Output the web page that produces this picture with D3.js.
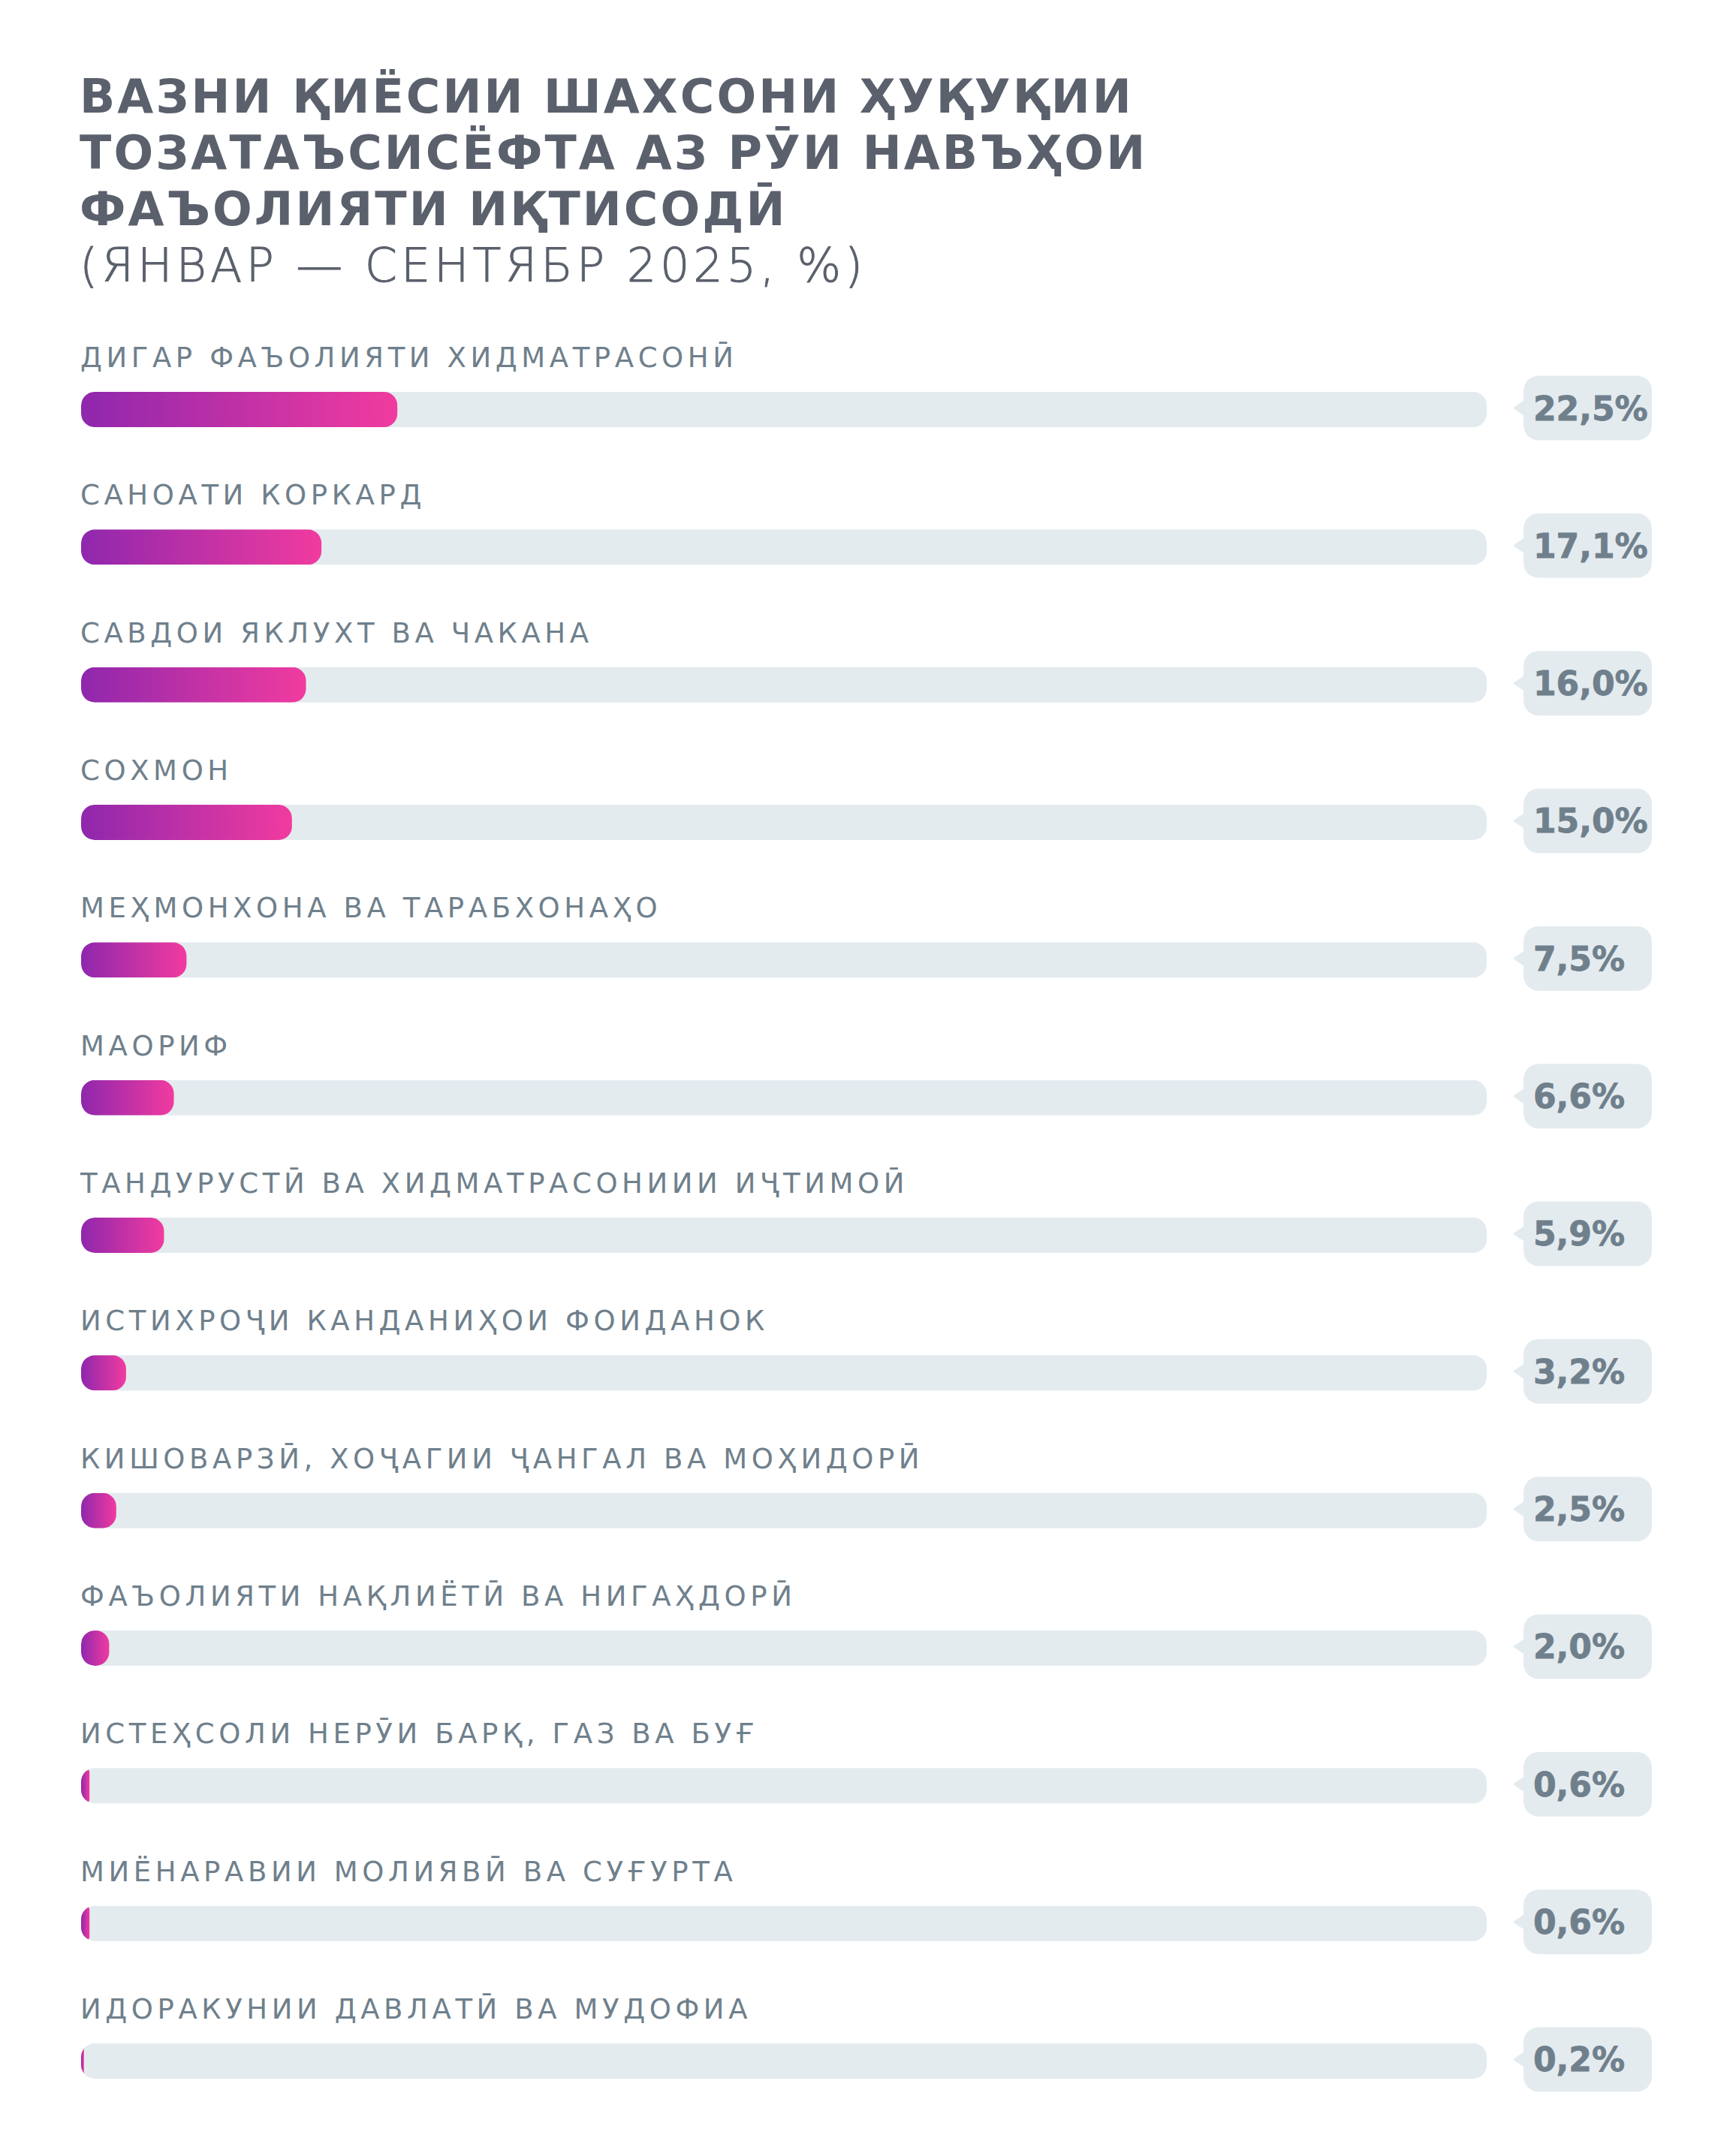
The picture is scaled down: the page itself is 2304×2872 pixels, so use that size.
<!DOCTYPE html>
<html>
<head>
<meta charset="utf-8">
<script src="https://cdn.jsdelivr.net/npm/d3@7"></script>
<style>
  body { margin: 0; background: #fff; }
  svg { display: block; }
</style>
</head>
<body>
<svg width="2304" height="2872"></svg>
<script>
// data
var titleLines = ["ВАЗНИ ҚИЁСИИ ШАХСОНИ ҲУҚУҚИИ", "ТОЗАТАЪСИСЁФТА АЗ РӮИ НАВЪҲОИ", "ФАЪОЛИЯТИ ИҚТИСОДӢ"];
var subtitle = "(ЯНВАР — СЕНТЯБР 2025, %)";

var categories = [
  "ДИГАР ФАЪОЛИЯТИ ХИДМАТРАСОНӢ",
  "САНОАТИ КОРКАРД",
  "САВДОИ ЯКЛУХТ ВА ЧАКАНА",
  "СОХМОН",
  "МЕҲМОНХОНА ВА ТАРАБХОНАҲО",
  "МАОРИФ",
  "ТАНДУРУСТӢ ВА ХИДМАТРАСОНИИИ ИҶТИМОӢ",
  "ИСТИХРОҶИ КАНДАНИҲОИ ФОИДАНОК",
  "КИШОВАРЗӢ, ХОҶАГИИ ҶАНГАЛ ВА МОҲИДОРӢ",
  "ФАЪОЛИЯТИ НАҚЛИЁТӢ ВА НИГАҲДОРӢ",
  "ИСТЕҲСОЛИ НЕРӮИ БАРҚ, ГАЗ ВА БУҒ",
  "МИЁНАРАВИИ МОЛИЯВӢ ВА СУҒУРТА",
  "ИДОРАКУНИИ ДАВЛАТӢ ВА МУДОФИА"
];
var values = [22.5, 17.1, 16.0, 15.0, 7.5, 6.6, 5.9, 3.2, 2.5, 2.0, 0.6, 0.6, 0.2];

var svg = d3.select("svg"),
    width = +svg.attr("width"),
    left = 108,
    trackW = 1872,
    trackH = 47,
    rowStep = 183.33;

var titleColor = "#5a606c",
    labelColor = "#6f808c",
    trackColor = "#e4ebef";

svg.append("rect").attr("width", width).attr("height", 2872).attr("fill", "#fff");

var defs = svg.append("defs");
var grad = defs.append("linearGradient")
    .attr("id", "barGrad")
    .attr("x1", "0%").attr("x2", "100%").attr("y1", "0%").attr("y2", "0%");
grad.append("stop").attr("offset", "0%").attr("stop-color", "#8f27ad");
grad.append("stop").attr("offset", "100%").attr("stop-color", "#f13b9f");

var x = d3.scaleLinear().domain([0, 100]).range([0, trackW]);
var y = d3.scaleBand().domain(categories)
    .range([400, 400 + rowStep * categories.length]).padding(0);

var fmt = function(v) { return d3.format(".1f")(v).replace(".", ",") + "%"; };

// title
svg.append("g").selectAll("text")
  .data(titleLines)
  .enter().append("text")
    .attr("x", left - 2)
    .attr("y", function(d, i) { return 150 + i * 75; })
    .attr("fill", titleColor)
    .style("font-family", "'DejaVu Sans', sans-serif")
    .style("font-weight", "bold")
    .style("font-size", "62px")
    .style("letter-spacing", "3.1px")
    .text(function(d) { return d; });

svg.append("text")
    .attr("x", left - 2)
    .attr("y", 375)
    .attr("fill", titleColor)
    .attr("stroke", titleColor)
    .attr("stroke-width", 0.9)
    .style("font-family", "'DejaVu Sans', sans-serif")
    .style("font-weight", "200")
    .style("font-size", "62px")
    .style("letter-spacing", "4.9px")
    .text(subtitle);

// clip so tiny fills follow the rounded track
var clip = defs.append("clipPath").attr("id", "trackClip");
clip.selectAll("rect")
  .data(categories)
  .enter().append("rect")
    .attr("x", left)
    .attr("y", function(d) { return y(d) + 122; })
    .attr("width", trackW)
    .attr("height", trackH)
    .attr("rx", 18);

var row = svg.append("g").selectAll(".row")
  .data(categories.map(function(c, i) { return {cat: c, value: values[i]}; }))
  .enter().append("g")
    .attr("class", "row")
    .attr("transform", function(d) { return "translate(0," + y(d.cat) + ")"; });

row.append("text")
    .attr("x", left - 1)
    .attr("y", 89)
    .attr("fill", labelColor)
    .style("font-family", "'DejaVu Sans', sans-serif")
    .style("font-size", "37px")
    .style("letter-spacing", "5.6px")
    .text(function(d) { return d.cat; });

row.append("rect")
    .attr("x", left)
    .attr("y", 122)
    .attr("width", trackW)
    .attr("height", trackH)
    .attr("rx", 18)
    .attr("fill", trackColor);

row.append("rect")
    .attr("x", left)
    .attr("width", function(d) { return x(d.value); })
    .attr("height", trackH)
    .attr("rx", function(d) { return Math.min(18, x(d.value) / 2); })
    .attr("clip-path", "url(#trackClip)")
    .attr("transform", function(d) { return "translate(0," + (-y(d.cat)) + ")"; })
    .attr("y", function(d) { return y(d.cat) + 122; })
    .attr("fill", "url(#barGrad)");

// value bubble with a small pointer
var bx = 2029, bw = 171, bh = 86, cy = 122 + trackH / 2 - 2;
row.append("path")
    .attr("d", "M" + (bx + 2) + "," + (cy - 11) +
               " Q" + (bx - 6) + "," + (cy - 6) + " " + (bx - 14) + "," + cy +
               " Q" + (bx - 6) + "," + (cy + 6) + " " + (bx + 2) + "," + (cy + 11) + " Z")
    .attr("fill", trackColor);

row.append("rect")
    .attr("x", bx)
    .attr("y", cy - bh / 2)
    .attr("width", bw)
    .attr("height", bh)
    .attr("rx", 20)
    .attr("fill", trackColor);

row.append("text")
    .attr("x", 2042)
    .attr("y", cy + 16)
    .attr("fill", labelColor)
    .attr("stroke", labelColor)
    .attr("stroke-width", 0.8)
    .style("font-family", "'DejaVu Sans', sans-serif")
    .style("font-weight", "bold")
    .style("font-size", "44px")
    .text(function(d) { return fmt(d.value); });
</script>
</body>
</html>
